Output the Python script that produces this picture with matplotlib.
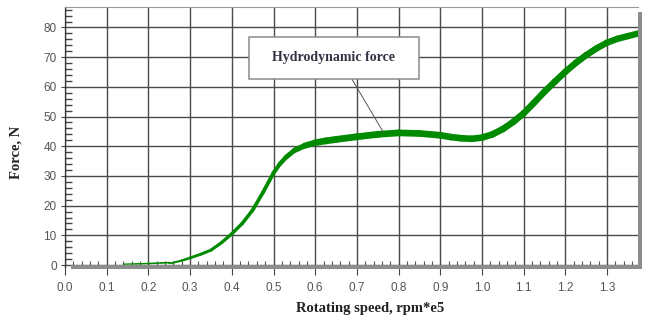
import numpy as np
import matplotlib
matplotlib.use("Agg")
import matplotlib.pyplot as plt
from matplotlib.collections import LineCollection
from matplotlib.patches import Rectangle
from matplotlib.ticker import MultipleLocator

# hydrodynamic force vs rotating speed (rpm*e5)
speed = [0.14, 0.17, 0.20, 0.23, 0.25, 0.26, 0.28, 0.30, 0.325, 0.35,
         0.375, 0.40, 0.425, 0.45, 0.475, 0.50, 0.515, 0.53, 0.55, 0.575,
         0.60, 0.625, 0.65, 0.70, 0.75, 0.80, 0.85, 0.90, 0.925, 0.95,
         0.975, 1.00, 1.025, 1.05, 1.075, 1.10, 1.125, 1.15, 1.175, 1.20,
         1.225, 1.25, 1.275, 1.30, 1.325, 1.35, 1.375]
force = [0.3, 0.4, 0.5, 0.7, 0.8, 0.8, 1.5, 2.4, 3.6, 5.0,
         7.5, 10.5, 14.0, 18.5, 24.5, 31.0, 34.0, 36.3, 38.6, 40.2,
         41.2, 41.8, 42.3, 43.2, 44.0, 44.5, 44.3, 43.7, 43.1, 42.7,
         42.5, 42.9, 44.0, 45.8, 48.2, 51.1, 54.7, 58.4, 61.8, 65.1,
         68.1, 70.7, 73.0, 74.9, 76.2, 77.1, 78.0]

x_ticks = np.round(np.arange(0, 1.31, 0.1), 1)
y_ticks = np.arange(0, 81, 10)

serif = ["Liberation Serif", "DejaVu Serif"]
sans = ["Liberation Sans", "DejaVu Sans"]

fig = plt.figure(figsize=(6.5, 3.22), dpi=100)
ax = fig.add_axes([65 / 650, 55 / 322, 573 / 650, 260 / 322])

ax.set_xlim(0, 1.374)
ax.set_ylim(-0.67, 86.9)
ax.set_xticks(x_ticks)
ax.set_yticks(y_ticks)
ax.set_xticklabels([f"{v:.1f}" for v in x_ticks])
ax.xaxis.set_minor_locator(MultipleLocator(0.02))
ax.yaxis.set_minor_locator(MultipleLocator(2))

ax.grid(True, which="major", color="#4a4a4a", linewidth=1.0, zorder=0)
ax.set_axisbelow(True)

ax.tick_params(axis="x", which="major", direction="out", length=6, width=0.8,
               color="#444", pad=5, labelsize=8.5, labelcolor="#555")
ax.tick_params(axis="x", which="minor", direction="in", length=4.5, width=0.8,
               color="#555")
ax.tick_params(axis="y", which="major", direction="out", length=3, width=0.8,
               color="#444", pad=3, labelsize=8.5, labelcolor="#555")
ax.tick_params(axis="y", which="minor", left=True, direction="in", length=5,
               width=1.0, color="#444")
for lab in ax.get_xticklabels() + ax.get_yticklabels():
    lab.set_family(sans)

# frame: thin left/top, gray shadow bars bottom/right
for side in ("bottom", "right"):
    ax.spines[side].set_visible(False)
ax.spines["left"].set_color("#333")
ax.spines["left"].set_linewidth(0.9)
ax.spines["top"].set_color("#999")
ax.spines["top"].set_linewidth(0.8)
ax.plot([0.011, 1.007], [0, 0], transform=ax.transAxes, color="#8c8c8c",
        linewidth=2.9, solid_capstyle="butt", clip_on=False, zorder=4)
ax.plot([1.0035, 1.0035], [0, 0.98], transform=ax.transAxes, color="#8c8c8c",
        linewidth=2.9, solid_capstyle="butt", clip_on=False, zorder=4)

# curve with width growing along the speed axis
xs = np.array(speed)
ys = np.array(force)
pts = np.column_stack([xs, ys]).reshape(-1, 1, 2)
segs = np.concatenate([pts[:-1], pts[1:]], axis=1)
mid = (xs[:-1] + xs[1:]) / 2
widths = np.interp(mid, [0.14, 0.26, 0.30, 0.50, 0.62, 1.375],
                   [0.9, 1.3, 2.0, 2.8, 4.9, 4.6])
lc = LineCollection(segs, linewidths=widths, colors="#008a00",
                    capstyle="round", joinstyle="round", zorder=3)
ax.add_collection(lc)

# callout
ax.add_patch(Rectangle((0.441, 62.6), 0.408, 14.2, facecolor="white",
                       edgecolor="#8a8a8a", linewidth=1.1, zorder=5))
ax.text(0.645, 69.8, "Hydrodynamic force", ha="center", va="center",
        fontsize=10, fontweight="bold", family=serif, color="#333344",
        zorder=6)
ax.plot([0.688, 0.763], [62.6, 44.8], color="#555", linewidth=0.7, zorder=4)

ax.set_xlabel("Rotating speed, rpm*e5", fontsize=10.5, fontweight="bold",
              family=serif, color="#222")
ax.xaxis.set_label_coords(0.532, -0.135)
ax.set_ylabel("Force, N", fontsize=10.5, fontweight="bold", family=serif,
              color="#222")
ax.yaxis.set_label_coords(-0.075, 0.44)

fig.savefig("out.png", dpi=100)
